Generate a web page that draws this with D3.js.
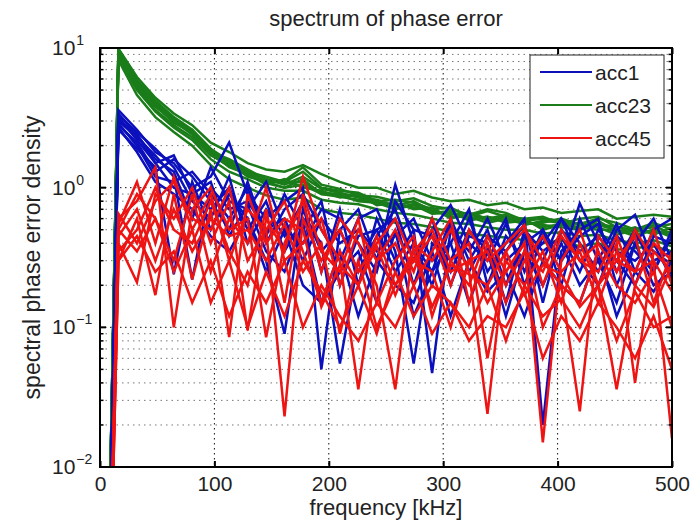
<!DOCTYPE html>
<html>
<head>
<meta charset="utf-8">
<script src="https://cdnjs.cloudflare.com/ajax/libs/d3/7.8.5/d3.min.js"></script>
<style>
  body { margin: 0; background: #fff; }
  svg text { font-family: "Liberation Sans", Arial, sans-serif; fill: #222; }
</style>
</head>
<body>
<div id="chart"></div>
<script>
// frequency bins [kHz]
var freqs = [0, 16.1, 32.3, 48.4, 64.5, 80.6, 96.8, 112.9, 129.0, 145.2, 161.3, 177.4, 193.5, 209.7,
  225.8, 241.9, 258.1, 274.2, 290.3, 306.5, 322.6, 338.7, 354.8, 371.0, 387.1, 403.2, 419.4,
  435.5, 451.6, 467.7, 483.9, 500];

// value of the dc bin (far below the axis)
var dcValue = 1e-6;

// acc1 runs (blue)
var acc1 = [
  [3.6,2.6,1.8,1.5,1.0,1.2,2.1,0.9,0.6,0.8,1.0,0.05,0.5,0.7,0.3,1.05,0.4,0.25,0.6,0.3,0.5,0.2,0.45,0.3,0.6,0.4,0.25,0.5,0.64,0.3,0.35],
  [3.2,2.2,1.5,1.7,0.9,0.7,1.0,0.5,0.8,0.35,0.6,0.4,0.055,0.3,0.5,0.6,0.2,0.5,0.75,0.4,0.3,0.55,0.25,0.5,0.3,0.77,0.4,0.3,0.5,0.25,0.45],
  [2.9,2.0,1.2,1.1,1.3,0.9,0.6,1.0,0.4,0.7,0.9,0.5,0.3,0.6,0.7,0.35,0.055,0.4,0.3,0.6,0.25,0.4,0.6,0.02,0.35,0.5,0.6,0.2,0.4,0.6,0.3],
  [3.4,2.4,1.6,1.3,0.6,1.4,0.8,0.7,1.1,0.5,0.4,0.7,0.6,0.4,0.25,0.8,0.5,0.047,0.5,0.35,0.6,0.3,0.4,0.5,0.2,0.6,0.3,0.55,0.25,0.5,0.6],
  [2.6,1.9,1.4,0.24,1.1,0.5,0.9,0.6,0.3,0.09,0.7,0.35,0.5,0.25,0.45,0.7,0.3,0.6,0.2,0.45,0.4,0.15,0.5,0.35,0.45,0.25,0.5,0.35,0.3,0.4,0.22],
  [3.0,2.3,1.7,1.2,0.22,1.0,0.7,0.8,0.5,0.6,0.3,0.6,0.4,0.5,0.35,0.45,0.6,0.3,0.4,0.7,0.2,0.45,0.3,0.4,0.6,0.3,0.2,0.45,0.35,0.25,0.5],
  [3.3,2.5,1.9,1.4,0.8,0.6,1.2,0.4,0.7,0.45,0.8,0.25,0.7,0.2,0.6,0.3,0.5,0.45,0.25,0.5,0.35,0.6,0.2,0.45,0.3,0.45,0.55,0.25,0.45,0.35,0.28],
  [2.8,2.1,1.3,1.6,1.2,0.8,0.5,1.1,0.45,0.9,0.5,0.8,0.2,0.45,0.5,0.25,0.4,0.2,0.55,0.25,0.45,0.35,0.55,0.15,0.5,0.35,0.45,0.3,0.2,0.45,0.4],
  [2.7,1.8,1.1,0.9,0.7,0.45,0.35,0.6,0.25,0.5,0.2,0.15,0.35,0.12,0.3,0.2,0.15,0.35,0.12,0.3,0.18,0.25,0.12,0.3,0.2,0.15,0.35,0.12,0.25,0.18,0.3],
  [3.1,2.4,1.5,1.0,0.9,1.1,0.45,0.75,0.35,0.25,0.55,0.15,0.25,0.35,0.15,0.5,0.12,0.25,0.4,0.15,0.35,0.12,0.35,0.2,0.4,0.2,0.3,0.15,0.4,0.2,0.25]
];

// acc23 runs (green)
var acc23 = [
  [9.8,5.9,4.2,3.2,2.6,1.9,1.55,1.3,1.2,1.1,1.3,1.0,0.95,0.92,0.8,0.82,0.78,0.7,0.72,0.62,0.68,0.62,0.6,0.62,0.55,0.6,0.62,0.52,0.5,0.56,0.5],
  [9.2,5.5,3.8,3.0,2.4,1.8,1.4,1.25,1.05,1.15,1.0,0.95,0.85,0.9,0.75,0.78,0.7,0.72,0.6,0.65,0.58,0.62,0.54,0.58,0.56,0.5,0.58,0.48,0.52,0.46,0.52],
  [8.8,5.2,3.6,2.8,2.3,1.7,1.5,1.2,1.1,1.0,1.05,0.9,0.88,0.8,0.78,0.7,0.75,0.65,0.66,0.6,0.62,0.56,0.58,0.52,0.55,0.52,0.5,0.5,0.45,0.5,0.44],
  [9.5,5.6,4.0,3.1,2.55,1.85,1.5,1.3,1.15,1.05,1.2,0.98,0.92,0.85,0.82,0.74,0.8,0.68,0.64,0.66,0.6,0.64,0.55,0.56,0.6,0.54,0.55,0.52,0.48,0.54,0.46],
  [9.0,5.3,3.9,2.9,2.5,1.75,1.45,1.22,1.12,1.08,1.1,0.92,0.9,0.86,0.76,0.76,0.72,0.7,0.62,0.62,0.56,0.6,0.6,0.5,0.54,0.56,0.52,0.46,0.5,0.48,0.48],
  [9.6,5.7,4.1,3.0,2.6,1.8,1.6,1.35,1.15,1.12,1.4,1.05,0.98,0.88,0.86,0.8,0.84,0.74,0.7,0.64,0.7,0.66,0.58,0.6,0.58,0.55,0.6,0.56,0.5,0.52,0.55],
  [8.6,5.0,3.5,2.7,2.2,1.6,1.3,1.15,1.0,0.95,0.95,0.82,0.78,0.76,0.7,0.66,0.64,0.6,0.56,0.55,0.52,0.5,0.5,0.47,0.48,0.45,0.46,0.42,0.4,0.42,0.38],
  [9.3,5.4,3.8,3.0,2.45,1.72,1.42,1.28,1.08,1.0,1.15,0.9,0.86,0.82,0.8,0.72,0.76,0.66,0.68,0.58,0.62,0.58,0.56,0.54,0.52,0.5,0.54,0.5,0.46,0.5,0.45],
  [9.9,6.2,4.4,3.4,2.8,2.1,1.8,1.5,1.35,1.3,1.45,1.25,1.1,1.0,1.0,0.9,0.95,0.85,0.8,0.82,0.75,0.78,0.7,0.72,0.66,0.68,0.7,0.6,0.62,0.64,0.62],
  [8.2,4.6,3.2,2.5,2.0,1.45,1.15,1.0,0.88,0.82,0.85,0.7,0.66,0.64,0.6,0.56,0.55,0.52,0.48,0.47,0.45,0.44,0.42,0.4,0.42,0.38,0.4,0.36,0.37,0.38,0.35]
];

// acc45 runs (red)
var acc45 = [
  [0.55,1.1,0.4,1.2,0.5,0.9,0.3,0.7,0.5,0.023,0.6,0.3,0.5,0.25,0.4,0.6,0.3,0.45,0.2,0.5,0.3,0.4,0.54,0.2,0.45,0.3,0.4,0.25,0.5,0.3,0.016],
  [0.4,0.21,0.9,0.6,1.0,0.4,0.8,0.095,0.6,0.35,1.2,0.5,0.3,0.036,0.3,0.5,0.25,0.6,0.3,0.2,0.45,0.25,0.4,0.015,0.3,0.5,0.2,0.4,0.04,0.35,0.25],
  [0.6,0.8,1.4,0.1,0.7,1.0,0.5,0.6,0.085,0.4,0.8,0.25,0.6,0.4,0.2,0.036,0.4,0.3,0.5,0.25,0.024,0.35,0.5,0.3,0.2,0.025,0.45,0.3,0.25,0.5,0.2],
  [0.3,0.6,0.17,0.9,0.22,0.7,0.085,0.9,0.4,0.6,0.5,0.14,0.28,0.2,0.38,0.17,0.35,0.14,0.28,0.24,0.2,0.35,0.17,0.28,0.24,0.14,0.2,0.036,0.2,0.14,0.28],
  [0.5,0.9,0.6,0.3,0.9,0.25,0.6,0.4,1.0,0.3,0.4,0.6,0.2,0.5,0.3,0.4,0.2,0.35,0.6,0.15,0.4,0.2,0.35,0.25,0.5,0.3,0.25,0.45,0.2,0.4,0.3],
  [0.35,0.5,1.0,0.5,0.4,0.8,0.35,0.2,0.7,0.15,0.9,0.35,0.25,0.6,0.15,0.3,0.45,0.12,0.3,0.4,0.06,0.3,0.2,0.35,0.15,0.4,0.2,0.3,0.45,0.15,0.35],
  [0.65,0.4,0.8,1.1,0.6,0.5,1.0,0.3,0.5,0.8,0.35,0.15,0.35,0.2,0.45,0.2,0.35,0.5,0.25,0.3,0.35,0.15,0.3,0.45,0.25,0.35,0.15,0.35,0.25,0.3,0.18],
  [0.45,0.7,0.3,0.7,0.35,0.6,0.45,0.5,0.3,0.55,0.25,0.4,0.09,0.3,0.1,0.2,0.3,0.25,0.1,0.3,0.15,0.25,0.4,0.1,0.2,0.15,0.35,0.2,0.15,0.25,0.1],
  [0.3,0.45,0.25,0.35,0.15,0.3,0.12,0.25,0.15,0.3,0.1,0.2,0.12,0.08,0.15,0.1,0.2,0.09,0.15,0.08,0.12,0.1,0.18,0.06,0.12,0.08,0.15,0.1,0.06,0.12,0.05],
  [0.5,0.35,0.6,0.25,0.5,0.15,0.3,0.1,0.25,0.12,0.3,0.18,0.1,0.2,0.09,0.25,0.12,0.2,0.15,0.1,0.2,0.08,0.2,0.12,0.16,0.1,0.2,0.08,0.18,0.1,0.12]
];

var xTicks = [0, 100, 200, 300, 400, 500];
var yDecades = [-2, -1, 0, 1];

var groups = [
  { name: "acc1", color: "#0c10bc", runs: acc1 },
  { name: "acc23", color: "#1a7d1a", runs: acc23 },
  { name: "acc45", color: "#ee1414", runs: acc45 }
];

var width = 696, height = 526;
var plotL = 100, plotR = 672, plotT = 48, plotB = 467;

var svg = d3.select("#chart").append("svg")
  .attr("width", width)
  .attr("height", height);

var x = d3.scaleLinear().domain([0, 500]).range([plotL, plotR]);
var y = d3.scaleLog().domain([0.01, 10]).range([plotB, plotT]);

// minor values 2..9 per decade
var minorVals = [];
[0.01, 0.1, 1].forEach(function(b) {
  for (var m = 2; m <= 9; m++) minorVals.push(b * m);
});

// grid
svg.append("g").selectAll("line")
  .data(minorVals)
  .enter().append("line")
  .attr("x1", plotL).attr("x2", plotR)
  .attr("y1", function(d) { return y(d); })
  .attr("y2", function(d) { return y(d); })
  .attr("stroke", "#777")
  .attr("stroke-width", 1)
  .attr("stroke-dasharray", "1.5,4");

svg.append("g").selectAll("line")
  .data([0.1, 1])
  .enter().append("line")
  .attr("x1", plotL).attr("x2", plotR)
  .attr("y1", function(d) { return y(d); })
  .attr("y2", function(d) { return y(d); })
  .attr("stroke", "#111")
  .attr("stroke-width", 1)
  .attr("stroke-dasharray", "1.5,3.5");

svg.append("g").selectAll("line")
  .data([100, 200, 300, 400])
  .enter().append("line")
  .attr("x1", function(d) { return x(d); })
  .attr("x2", function(d) { return x(d); })
  .attr("y1", plotT).attr("y2", plotB)
  .attr("stroke", "#111")
  .attr("stroke-width", 1)
  .attr("stroke-dasharray", "1.5,3.5");

// lines
svg.append("clipPath").attr("id", "plotclip")
  .append("rect")
  .attr("x", plotL).attr("y", plotT)
  .attr("width", plotR - plotL).attr("height", plotB - plotT);

var line = d3.line()
  .x(function(d) { return x(d[0]); })
  .y(function(d) { return y(d[1]); });

var plotG = svg.append("g").attr("clip-path", "url(#plotclip)");

// green first, then blue, then red on top
[groups[1], groups[0], groups[2]].forEach(function(g) {
  g.runs.forEach(function(run) {
    var vals = [dcValue].concat(run);
    var pts = freqs.map(function(f, i) { return [f, vals[i]]; });
    plotG.append("path")
      .attr("d", line(pts))
      .attr("fill", "none")
      .attr("stroke", g.color)
      .attr("stroke-width", 2.5)
      .attr("stroke-linejoin", "miter");
  });
});

// axes (inside ticks)
svg.append("g")
  .attr("transform", "translate(0," + plotB + ")")
  .call(d3.axisBottom(x).tickValues(xTicks).tickSize(-6).tickPadding(9).tickFormat(d3.format("d")))
  .call(function(g) {
    g.select(".domain").remove();
    g.selectAll("line").attr("stroke", "#000").attr("stroke-width", 2);
    g.selectAll("text").style("font-size", "21px").attr("fill", "#222");
  });

svg.append("g")
  .attr("transform", "translate(0," + plotT + ")")
  .call(d3.axisTop(x).tickValues(xTicks).tickSize(-6).tickFormat(""))
  .call(function(g) {
    g.select(".domain").remove();
    g.selectAll("line").attr("stroke", "#000").attr("stroke-width", 2);
  });

var majorVals = yDecades.map(function(e) { return Math.pow(10, e); });

function yTicks(g, side) {
  var dir = side === "left" ? 1 : -1;
  var x0 = side === "left" ? plotL : plotR;
  g.selectAll("line.major")
    .data(majorVals)
    .enter().append("line")
    .attr("x1", x0).attr("x2", x0 + dir * 6)
    .attr("y1", function(d) { return y(d); })
    .attr("y2", function(d) { return y(d); })
    .attr("stroke", "#000").attr("stroke-width", 2);
  g.selectAll("line.minor")
    .data(minorVals)
    .enter().append("line")
    .attr("x1", x0).attr("x2", x0 + dir * 3.5)
    .attr("y1", function(d) { return y(d); })
    .attr("y2", function(d) { return y(d); })
    .attr("stroke", "#000").attr("stroke-width", 1.5);
}
svg.append("g").call(yTicks, "left");
svg.append("g").call(yTicks, "right");

// y tick labels 10^n
var yLab = svg.append("g").selectAll("text")
  .data(yDecades)
  .enter().append("text")
  .attr("x", 52)
  .attr("y", function(d) { return y(Math.pow(10, d)) + 7; })
  .style("font-size", "21px");
yLab.append("tspan").text("10");
yLab.append("tspan")
  .attr("dy", -10)
  .attr("dx", 1)
  .style("font-size", "14px")
  .text(function(d) { return d < 0 ? "\u2212" + (-d) : d; });

// frame
svg.append("rect")
  .attr("x", plotL).attr("y", plotT)
  .attr("width", plotR - plotL).attr("height", plotB - plotT)
  .attr("fill", "none")
  .attr("stroke", "#000")
  .attr("stroke-width", 2);

// title and labels
svg.append("text")
  .attr("x", (plotL + plotR) / 2)
  .attr("y", 26)
  .attr("text-anchor", "middle")
  .style("font-size", "22px")
  .text("spectrum of phase error");

svg.append("text")
  .attr("x", (plotL + plotR) / 2)
  .attr("y", 515)
  .attr("text-anchor", "middle")
  .style("font-size", "22px")
  .text("frequency [kHz]");

svg.append("text")
  .attr("transform", "translate(40," + ((plotT + plotB) / 2) + ") rotate(-90)")
  .attr("text-anchor", "middle")
  .style("font-size", "23px")
  .text("spectral phase error density");

// legend
var legend = svg.append("g");
legend.append("rect")
  .attr("x", 530).attr("y", 55)
  .attr("width", 134).attr("height", 103)
  .attr("fill", "#fff")
  .attr("stroke", "#222")
  .attr("stroke-width", 1);

var legendRows = [72, 105, 138];
groups.forEach(function(g, i) {
  legend.append("line")
    .attr("x1", 540).attr("x2", 592)
    .attr("y1", legendRows[i]).attr("y2", legendRows[i])
    .attr("stroke", g.color)
    .attr("stroke-width", 2);
  legend.append("text")
    .attr("x", 595)
    .attr("y", legendRows[i] + 8)
    .style("font-size", "21px")
    .text(g.name);
});
</script>
</body>
</html>
